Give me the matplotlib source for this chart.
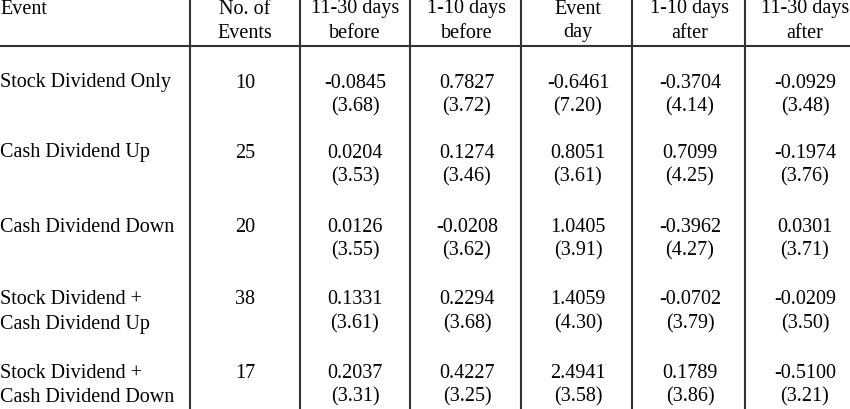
import matplotlib
matplotlib.use("Agg")
import matplotlib.pyplot as plt

W, H = 850, 409

headers = [("No. of", "Events"), ("11-30 days", "before"), ("1-10 days", "before"),
           ("Event", "day"), ("1-10 days", "after"), ("11-30 days", "after")]
events = [("Stock Dividend Only",), ("Cash Dividend Up",), ("Cash Dividend Down",),
          ("Stock Dividend +", "Cash Dividend Up"), ("Stock Dividend +", "Cash Dividend Down")]
n_events = [10, 25, 20, 38, 17]
means = [
    ["-0.0845", "0.7827", "-0.6461", "-0.3704", "-0.0929"],
    ["0.0204", "0.1274", "0.8051", "0.7099", "-0.1974"],
    ["0.0126", "-0.0208", "1.0405", "-0.3962", "0.0301"],
    ["0.1331", "0.2294", "1.4059", "-0.0702", "-0.0209"],
    ["0.2037", "0.4227", "2.4941", "0.1789", "-0.5100"],
]
tstats = [
    ["(3.68)", "(3.72)", "(7.20)", "(4.14)", "(3.48)"],
    ["(3.53)", "(3.46)", "(3.61)", "(4.25)", "(3.76)"],
    ["(3.55)", "(3.62)", "(3.91)", "(4.27)", "(3.71)"],
    ["(3.61)", "(3.68)", "(4.30)", "(3.79)", "(3.50)"],
    ["(3.31)", "(3.25)", "(3.58)", "(3.86)", "(3.21)"],
]

col_x = [245, 355, 467, 578, 690, 805]
vlines = [190, 300, 410, 521, 632, 745]
row_y = [83, 153, 227, 300, 373]
line_gap = 24

plt.rcParams["font.family"] = ["Liberation Serif", "DejaVu Serif"]
fig = plt.figure(figsize=(W / 100, H / 100), dpi=100)
ax = fig.add_axes([0, 0, 1, 1])
ax.set_xlim(0, W)
ax.set_ylim(H, 0)
ax.axis("off")

fs = 14.5
kw = dict(fontsize=fs, va="center", color="black")
ax.text(0, 9, "Event", ha="left", **kw)
for x, (a, b) in zip(col_x, headers):
    ax.text(x, 9, a, ha="center", **kw)
    ax.text(x, 33, b, ha="center", **kw)

for i, y in enumerate(row_y):
    for j, s in enumerate(events[i]):
        ax.text(0, y + j * line_gap, s, ha="left", **kw)
    ax.text(col_x[0], y, str(n_events[i]), ha="center", **kw)
    for j in range(5):
        ax.text(col_x[j + 1], y, means[i][j], ha="center", **kw)
        ax.text(col_x[j + 1], y + line_gap, tstats[i][j], ha="center", **kw)

for x in vlines:
    ax.plot([x, x], [0, H], color="#333333", lw=1.5)
ax.plot([0, W], [46, 46], color="#333333", lw=1.5)

fig.savefig("out.png", dpi=100)
